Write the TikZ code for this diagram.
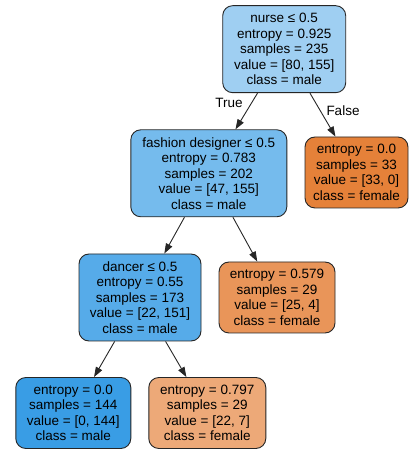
\documentclass[tikz,border=0pt]{standalone}
\usepackage{fontspec}
\setmainfont{Liberation Sans}
\usetikzlibrary{arrows.meta}
\definecolor{cRoot}{RGB}{159,207,242}
\definecolor{cFD}{RGB}{117,187,237}
\definecolor{cDancer}{RGB}{86,171,233}
\definecolor{cMale}{RGB}{57,157,229}
\definecolor{cFemale}{RGB}{229,129,57}
\definecolor{cL579}{RGB}{233,149,89}
\definecolor{cL797}{RGB}{237,169,120}
\tikzset{
  treebox/.style={draw=black!85, line width=0.9pt, rounded corners=10pt, align=center,
    inner sep=0pt, font=\fontsize{13.5}{15.5}\selectfont},
  edgearrow/.style={draw=black!85, line width=0.9pt, -{Triangle[length=10pt,width=7pt]}},
  edgelabel/.style={font=\fontsize{13.5}{15.5}\selectfont, inner sep=0pt}
}
\begin{document}
\begin{tikzpicture}[x=1pt,y=1pt]
\useasboundingbox (0,0) rectangle (409,449);
\node[treebox, fill=cRoot, minimum width=123pt, minimum height=87pt] (root) at (284.2,399.8)
  {nurse ≤ 0.5\\entropy = 0.925\\samples = 235\\value = [80, 155]\\class = male};
\node[treebox, fill=cFD, minimum width=156pt, minimum height=87pt] (fd) at (208.8,275.7)
  {fashion designer ≤ 0.5\\entropy = 0.783\\samples = 202\\value = [47, 155]\\class = male};
\node[treebox, fill=cFemale, minimum width=103pt, minimum height=71pt] (lr) at (356.5,276.5)
  {entropy = 0.0\\samples = 33\\value = [33, 0]\\class = female};
\node[treebox, fill=cDancer, minimum width=122pt, minimum height=87pt] (dancer) at (140,151.5)
  {dancer ≤ 0.5\\entropy = 0.55\\samples = 173\\value = [22, 151]\\class = male};
\node[treebox, fill=cL579, minimum width=116pt, minimum height=71pt] (l579) at (277,151.5)
  {entropy = 0.579\\samples = 29\\value = [25, 4]\\class = female};
\node[treebox, fill=cMale, minimum width=115pt, minimum height=71pt] (l144) at (73.3,36)
  {entropy = 0.0\\samples = 144\\value = [0, 144]\\class = male};
\node[treebox, fill=cL797, minimum width=117pt, minimum height=71pt] (l797) at (207.3,36)
  {entropy = 0.797\\samples = 29\\value = [22, 7]\\class = female};
\draw[edgearrow] (root) -- (fd);
\draw[edgearrow] (root) -- (lr);
\draw[edgearrow] (fd) -- (dancer);
\draw[edgearrow] (fd) -- (l579);
\draw[edgearrow] (dancer) -- (l144);
\draw[edgearrow] (dancer) -- (l797);
\node[edgelabel] (ltrue) at (229,346) {True};
\node[edgelabel] (lfalse) at (343,338) {False};
\end{tikzpicture}
\end{document}
